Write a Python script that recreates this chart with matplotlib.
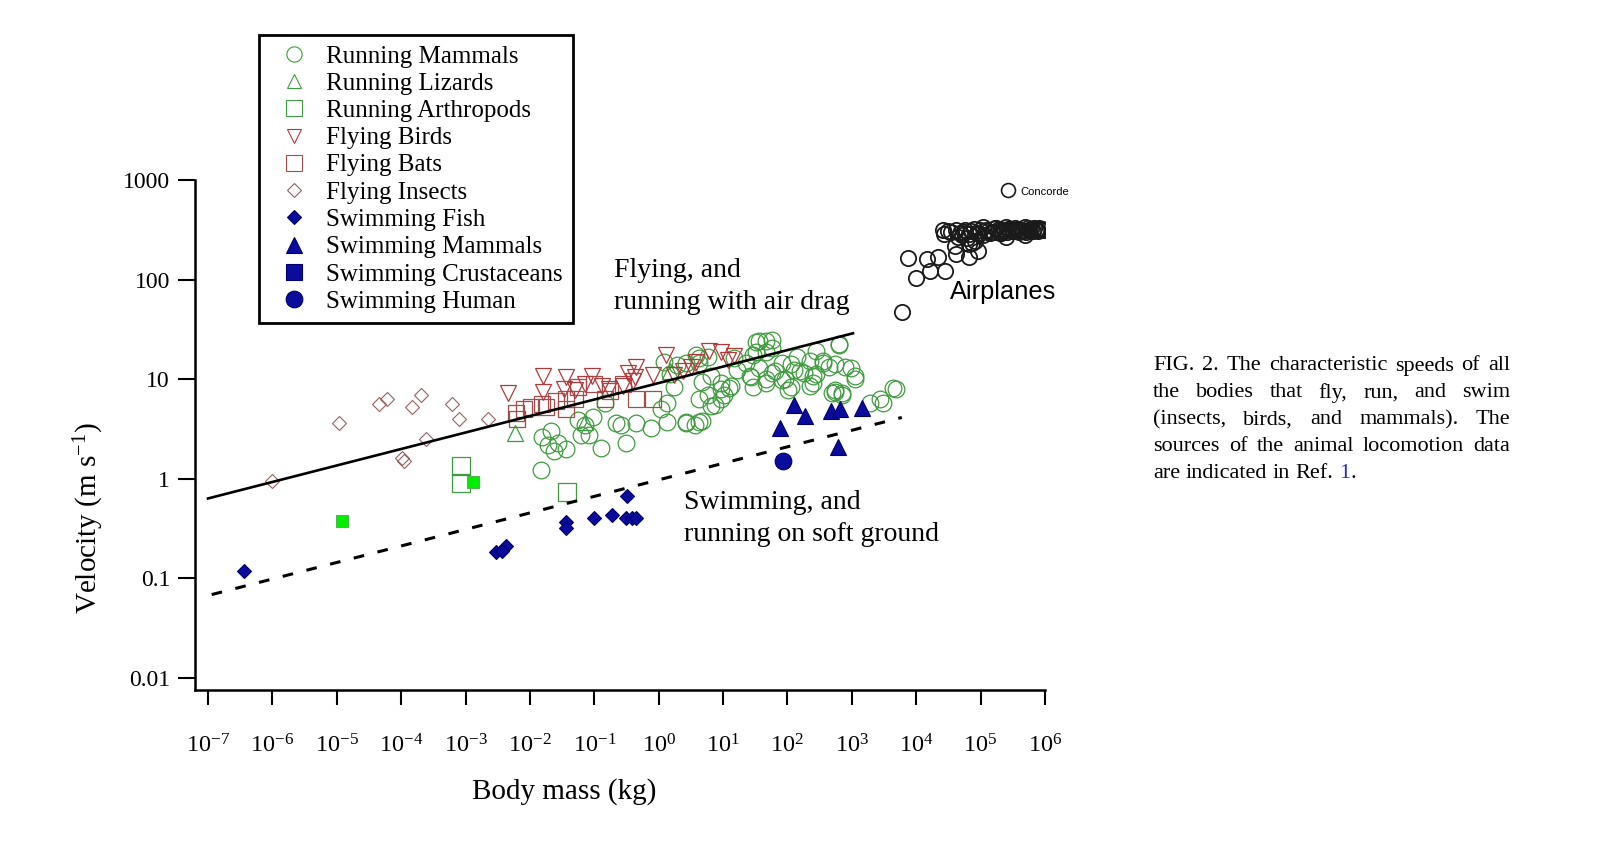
import matplotlib
matplotlib.use("Agg")
import matplotlib.pyplot as plt
from matplotlib.lines import Line2D
from matplotlib.ticker import NullLocator

plt.rcParams["font.family"] = ["Liberation Serif", "DejaVu Serif"]
plt.rcParams["mathtext.fontset"] = "custom"
plt.rcParams["mathtext.rm"] = "Liberation Serif"
plt.rcParams["mathtext.it"] = "Liberation Serif:italic"
plt.rcParams["mathtext.bf"] = "Liberation Serif:bold"

# ---- data: body mass (kg), speed (m/s) ----
run_mammal_mass = [0.0153, 0.0215, 0.0192, 0.027, 0.036, 0.024, 0.056, 0.071, 0.084, 0.063,
                   0.094, 0.125, 0.148, 0.26, 0.31, 0.44, 0.77, 1.08, 1.36, 1.36,
                   1.7, 2.7, 3.6, 1.9, 2.7, 3.8, 1.2, 1.5, 0.0148,
                   0.22, 4.7, 7.4, 10.4, 13.1, 9.3, 5.9, 4.7, 4.2, 26,
                   36, 46, 33, 57, 81, 91, 127, 179, 250, 353,
                   443, 621, 781, 1100, 556, 697, 2720, 4810, 46, 57,
                   113, 224, 143, 281, 23, 16.4, 6.6,
                   33, 57, 29, 46, 36, 27, 46, 64, 81, 101,
                   113, 159, 224, 281, 353, 556, 621, 979, 1100, 250,
                   556, 497, 700, 1940, 3050, 4290, 4.2, 2.7, 6.6, 9.3,
                   12.4, 4.2, 29, 5.9, 4.2, 14.7, 9.3]
run_mammal_speed = [2.6, 3.0, 2.2, 2.3, 2.0, 1.9, 3.85, 3.45, 2.75, 2.75,
                    4.15, 2.06, 5.8, 3.45, 2.3, 3.6, 3.2, 5.0, 5.8, 3.7,
                    8.3, 3.6, 3.45, 13.9, 14.4, 17.3, 15.0, 11.2, 1.22,
                    3.6, 3.8, 5.5, 6.9, 8.6, 8.0, 6.9, 9.3, 14.4, 10.7,
                    24, 24, 18.6, 20.8, 14.4, 10.0, 12.4, 11.5, 10.7, 14.4,
                    13.4, 22.4, 13.4, 10.7, 7.4, 6.9, 6.4, 8.0, 10.0, 11.5,
                    8.3, 8.6, 16.7, 19.3, 14.4, 12.4, 10.7,
                    23.5, 25, 17.5, 18.9, 13.1, 10.5, 9.1, 12.1, 9.75, 7.8,
                    14.1, 12.1, 15.1, 11.3, 15.1, 14.1, 21.8, 13.1, 10.1, 9.1,
                    7.8, 7.3, 7.3, 5.8, 5.8, 8.1, 3.75, 3.75, 5.4, 6.3,
                    8.1, 6.3, 8.4, 16.9, 16.3, 16.3, 9.1]

lizard_mass = [0.0059, 0.071, 1.5]
lizard_speed = [2.9, 3.7, 12.0]

arthropod_mass = [8.4e-4, 8.4e-4, 0.038]
arthropod_speed = [1.35, 0.90, 0.73]

bird_mass = [4.5e-3, 0.016, 0.016, 0.036, 0.034, 0.050, 0.072, 0.092, 0.13, 0.17,
             0.28, 0.33, 0.43, 0.40, 0.44, 0.81, 1.3, 1.7, 2.4, 3.2,
             3.8, 6.0, 9.3, 14.7, 12.0]
bird_speed = [7.3, 10.8, 7.4, 10.5, 8.0, 7.8, 9.0, 10.8, 8.6, 8.0,
              8.6, 11.5, 10.5, 9.6, 13.3, 11.0, 17.5, 11.0, 12.1, 13.3,
              14.9, 19.2, 18.8, 17.1, 15.6]

bat_mass = [6.1e-3, 8.1e-3, 6.4e-3, 0.0103, 0.0152, 0.018, 0.0256, 0.036, 0.036, 0.050,
            0.056, 0.10, 0.148, 0.176, 0.28, 0.44, 0.81]
bat_speed = [4.6, 5.0, 4.0, 5.2, 5.6, 5.2, 6.0, 5.0, 6.4, 6.4,
             8.3, 9.0, 6.4, 7.7, 9.0, 6.4, 6.4]

insect_mass = [1.0e-6, 1.07e-5, 4.6e-5, 6.0e-5, 1.5e-4, 2.0e-4, 6.1e-4, 8.0e-4, 2.2e-3, 2.4e-4,
               1.04e-4, 1.1e-4]
insect_speed = [0.94, 3.6, 5.7, 6.3, 5.2, 6.9, 5.7, 4.0, 4.0, 2.5,
                1.6, 1.5]

fish_mass = [3.6e-7, 3.0e-3, 4.2e-3, 3.7e-3, 0.036, 0.036, 0.10, 0.19, 0.32, 0.31, 0.39, 0.45]
fish_speed = [0.12, 0.185, 0.21, 0.19, 0.37, 0.32, 0.40, 0.43, 0.67, 0.40, 0.40, 0.40]

swim_mammal_mass = [127, 189, 76, 469, 658, 1456, 608]
swim_mammal_speed = [5.5, 4.3, 3.2, 4.8, 5.0, 5.15, 2.1]

crustacean_mass = [1.2e-5, 1.3e-3]
crustacean_speed = [0.38, 0.92]

human_mass = [86]
human_speed = [1.5]

plane_mass = [5970, 9860, 7410, 14600, 16300, 21600, 27800, 25900, 39700, 41200,
              65600, 90600, 65600, 81300,
              26600, 42000, 55800, 78400, 110000, 155000, 194000, 244000, 305000, 384000,
              482000, 604000, 759000, 898000, 62400, 74100, 244000, 110000, 44300, 482000,
              130000, 175000, 215000, 270000, 340000, 430000, 540000, 680000, 820000, 35000,
              31000, 48000, 58000, 70000, 88000, 99000, 120000, 140000, 165000, 185000,
              205000, 230000, 260000, 290000, 320000, 360000, 400000, 450000, 510000, 570000,
              640000, 720000, 790000, 860000, 950000, 52000, 67000, 95000, 150000, 200000]
plane_speed = [46.8, 104, 163, 161, 122, 169, 122, 315, 217, 181,
               169, 194, 228, 244,
               290, 313, 301, 324, 337, 301, 324, 337, 313, 324,
               337, 324, 324, 324, 260, 233, 270, 280, 270, 280,
               310, 330, 305, 320, 330, 318, 328, 332, 330, 300,
               305, 295, 318, 308, 296, 318, 312, 297, 326, 305,
               296, 312, 300, 318, 305, 314, 300, 310, 302, 316,
               306, 314, 308, 312, 318, 282, 290, 288, 300, 292]

concorde_mass = [264000]
concorde_speed = [794]

air_line_mass = [1.0e-7, 1.04e3]
air_line_speed = [0.635, 28.9]
soft_line_mass = [1.14e-7, 5970]
soft_line_speed = [0.0688, 4.13]

xtick_vals = [1e-7, 1e-6, 1e-5, 1e-4, 1e-3, 1e-2, 1e-1, 1e0, 1e1, 1e2, 1e3, 1e4, 1e5, 1e6]
xtick_labels = ["10$^{-7}$", "10$^{-6}$", "10$^{-5}$", "10$^{-4}$", "10$^{-3}$", "10$^{-2}$",
                "10$^{-1}$", "10$^{0}$", "10$^{1}$", "10$^{2}$", "10$^{3}$", "10$^{4}$",
                "10$^{5}$", "10$^{6}$"]
ytick_vals = [0.01, 0.1, 1, 10, 100, 1000]
ytick_labels = ["0.01", "0.1", "1", "10", "100", "1000"]

legend_labels = ["Running Mammals", "Running Lizards", "Running Arthropods", "Flying Birds",
                 "Flying Bats", "Flying Insects", "Swimming Fish", "Swimming Mammals",
                 "Swimming Crustaceans", "Swimming Human"]

caption_lines = ["FIG. 2. The characteristic speeds of all",
                 "the bodies that fly, run, and swim",
                 "(insects, birds, and mammals). The",
                 "sources of the animal locomotion data"]
caption_last = ["are", "indicated", "in", "Ref."]

GREEN = "#3f9b3f"
BIRD = "#b03a3a"
BAT = "#a44c4c"
INSECT = "#946262"
BLUE = "#0c0c9c"
BLUE_EDGE = "#00006a"

fig = plt.figure(figsize=(16, 8.59), dpi=100)
ax = fig.add_axes([195 / 1600, 1 - 690 / 859, 850 / 1600, 510 / 859])
ax.set_xscale("log")
ax.set_yscale("log")

open_kw = dict(ls="none", mfc="none")
ax.plot(run_mammal_mass, run_mammal_speed, "o", ms=12, mec=GREEN, mew=0.9, **open_kw)
ax.plot(lizard_mass, lizard_speed, "^", ms=12, mec=GREEN, mew=0.9, **open_kw)
ax.plot(arthropod_mass, arthropod_speed, "s", ms=12.5, mec=GREEN, mew=0.9, **open_kw)
ax.plot(bat_mass, bat_speed, "s", ms=11, mec=BAT, mew=0.9, **open_kw)
ax.plot(bird_mass, bird_speed, "v", ms=12, mec=BIRD, mew=0.9, **open_kw)
ax.plot(insect_mass, insect_speed, "D", ms=7.5, mec=INSECT, mew=0.8, **open_kw)
ax.plot(plane_mass, plane_speed, "o", ms=11, mec="#1a1a1a", mew=1.3, **open_kw)
ax.plot(concorde_mass, concorde_speed, "o", ms=10, mec="#1a1a1a", mew=1.2, **open_kw)

ax.plot(fish_mass, fish_speed, "D", ms=7.5, ls="none", mfc=BLUE, mec=BLUE_EDGE, mew=0.8)
ax.plot(swim_mammal_mass, swim_mammal_speed, "^", ms=12, ls="none", mfc=BLUE, mec=BLUE_EDGE, mew=0.8)
ax.plot(crustacean_mass, crustacean_speed, "s", ms=8.5, ls="none", mfc="#00ee00", mec="#4cb84c", mew=0.8)
ax.plot(human_mass, human_speed, "o", ms=12, ls="none", mfc=BLUE, mec=BLUE_EDGE, mew=0.8)

ax.plot(air_line_mass, air_line_speed, color="black", lw=1.9)
ax.plot(soft_line_mass, soft_line_speed, color="black", lw=2.2, dashes=(3.5, 4.5))

ax.set_xlim(6.28e-8, 1e6)
ax.set_ylim(0.00758, 1000)
ax.set_xticks(xtick_vals)
ax.set_xticklabels(xtick_labels)
ax.set_yticks(ytick_vals)
ax.set_yticklabels(ytick_labels)
ax.xaxis.set_minor_locator(NullLocator())
ax.yaxis.set_minor_locator(NullLocator())
ax.tick_params(axis="x", direction="out", length=11, width=1.5, pad=21, labelsize=17.5)
ax.tick_params(axis="y", direction="out", length=12, width=1.5, pad=6, labelsize=17)
for side in ("top", "right"):
    ax.spines[side].set_visible(False)
for side in ("left", "bottom"):
    ax.spines[side].set_linewidth(1.8)

ax.set_xlabel("Body mass (kg)", fontsize=21)
ax.xaxis.set_label_coords((564 - 195) / 850, -0.172)
ax.set_ylabel("Velocity (m s$^{-1}$)", fontsize=21)
ax.yaxis.set_label_coords(-0.105, 0.337)

fig.text(614 / 1600, 1 - 258 / 859, "Flying, and\nrunning with air drag",
         fontsize=20, ha="left", va="top", linespacing=1.37)
fig.text(684 / 1600, 1 - 490 / 859, "Swimming, and\nrunning on soft ground",
         fontsize=20, ha="left", va="top", linespacing=1.37)
fig.text(950 / 1600, 1 - 292 / 859, "Airplanes", family="Liberation Sans",
         fontsize=18.3, ha="left", va="center")
fig.text(1020 / 1600, 1 - 192 / 859, "Concorde", family="Liberation Sans",
         fontsize=8, ha="left", va="center")


# legend with proxy handles (crustaceans are blue in the key)
def key(marker, ms, edge, face="none", mew=0.8):
    return Line2D([], [], ls="none", marker=marker, ms=ms, mec=edge, mfc=face, mew=mew)


handles = [key("o", 11, GREEN), key("^", 10, GREEN), key("s", 11, GREEN),
           key("v", 10, BIRD), key("s", 11, BAT), key("D", 7, INSECT),
           key("D", 7, BLUE_EDGE, BLUE), key("^", 11, BLUE_EDGE, BLUE),
           key("s", 11, BLUE_EDGE, BLUE), key("o", 12, BLUE_EDGE, BLUE)]
leg = fig.legend(handles, legend_labels, loc="upper left",
                 bbox_to_anchor=(259 / 1600, 1 - 35 / 859),
                 fontsize=18, frameon=True, fancybox=False, framealpha=1, edgecolor="black",
                 borderaxespad=0, borderpad=0.4, labelspacing=0.19, handlelength=2.0,
                 handletextpad=0.3)
leg.get_frame().set_linewidth(2)

# justified caption
renderer = fig.canvas.get_renderer()
cap_left, cap_right = 1153, 1510
cap_size = 16


def width_px(s):
    t = fig.text(0, 0, s, fontsize=cap_size)
    w = t.get_window_extent(renderer).width
    t.remove()
    return w


cap_y0 = 366
cap_step = 26.8
for i, line in enumerate(caption_lines):
    words = line.split()
    widths = [width_px(w) for w in words]
    gap = (cap_right - cap_left - sum(widths)) / (len(words) - 1)
    x = cap_left
    y = 1 - (cap_y0 + i * cap_step) / 859
    for w, wd in zip(words, widths):
        fig.text(x / 1600, y, w, fontsize=cap_size, ha="left", va="center")
        x += wd + gap

space = width_px("a a") - width_px("aa")
x = cap_left
y = 1 - (cap_y0 + 4 * cap_step) / 859
for w in caption_last:
    fig.text(x / 1600, y, w, fontsize=cap_size, ha="left", va="center")
    x += width_px(w) + space
fig.text(x / 1600, y, "1", fontsize=cap_size, ha="left", va="center", color="#2a2acc")
x += width_px("1")
fig.text(x / 1600, y, ".", fontsize=cap_size, ha="left", va="center")

fig.savefig("out.png", dpi=100, facecolor="white")
